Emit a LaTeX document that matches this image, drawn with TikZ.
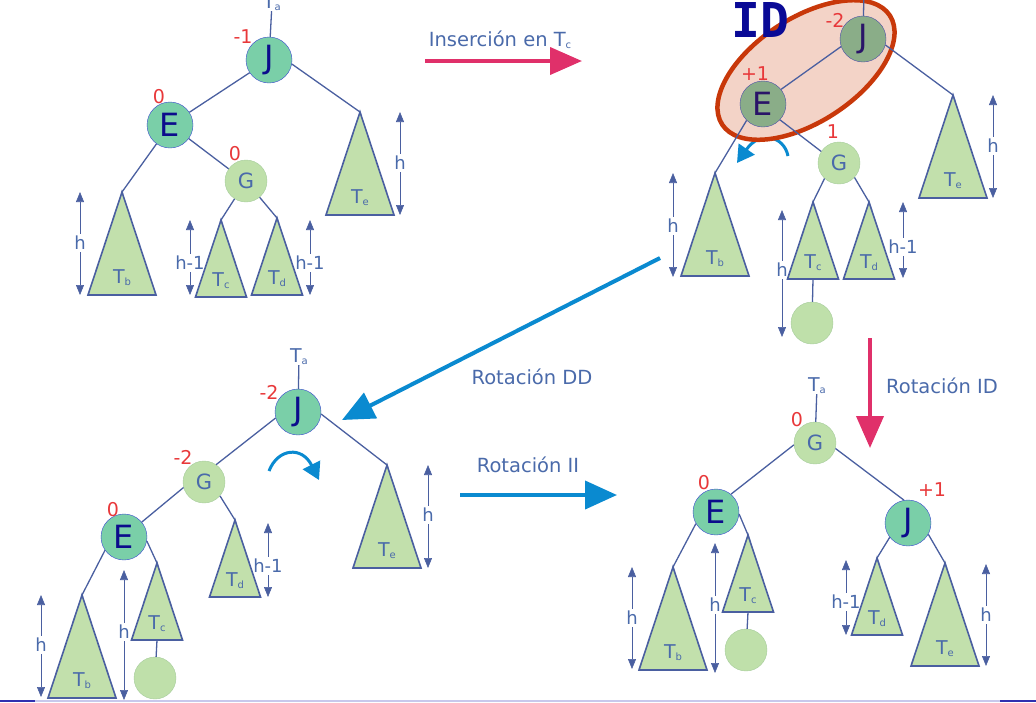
\documentclass[tikz,border=0pt]{standalone}
\usepackage{fontspec}
\setmainfont{DejaVu Sans}
\newfontfamily\idfont{DejaVu Sans Mono}
\usetikzlibrary{arrows.meta,shapes.geometric,positioning}

\definecolor{treeline}{HTML}{4A5FA0}
\definecolor{trifill}{HTML}{C2E0AC}
\definecolor{midgreen}{HTML}{7ACFA8}
\definecolor{midborder}{HTML}{3A48D0}
\definecolor{navyletter}{HTML}{0C0C8C}
\definecolor{lightgreen}{HTML}{BFE0AA}
\definecolor{lightborder}{HTML}{A6CC9C}
\definecolor{gletter}{HTML}{4A6AAA}
\definecolor{darkgreen}{HTML}{8AAD88}
\definecolor{darkborder}{HTML}{4B4FA8}
\definecolor{darkletter}{HTML}{2A1468}
\definecolor{salmonfill}{HTML}{F3D3C7}
\definecolor{rust}{HTML}{C8380A}
\definecolor{bfred}{HTML}{E8383A}
\definecolor{labelblue}{HTML}{4A6AAA}
\definecolor{arrowblue}{HTML}{0A8AD0}
\definecolor{rosered}{HTML}{E0306A}
\definecolor{idblue}{HTML}{0A0A96}
\definecolor{lavender}{HTML}{C8C8EC}
\definecolor{slideblue}{HTML}{3030B0}

\newcommand{\Tsub}[1]{T\raisebox{-2pt}{\fontsize{10}{10}\selectfont #1}}

\begin{document}
\begin{tikzpicture}[x=1pt,y=-1pt,
    edge/.style={draw=treeline,line width=1.3pt},
    avl/.style={circle,draw=midborder,fill=midgreen,minimum size=46pt,inner sep=0pt,text=navyletter,font=\fontsize{32}{32}\selectfont},
    avldark/.style={avl,draw=darkborder,fill=darkgreen,text=darkletter},
    leaf/.style={circle,draw=lightborder,fill=lightgreen,minimum size=42pt,inner sep=0pt,text=gletter,font=\fontsize{21}{21}\selectfont},
    bf/.style={text=bfred,font=\fontsize{19}{19}\selectfont,inner sep=0pt},
    tri/.style={draw=treeline,fill=trifill,line width=1.6pt,line join=miter},
    sub/.style={text=labelblue,font=\fontsize{19}{19}\selectfont,inner sep=0pt},
    hlab/.style={text=labelblue,font=\fontsize{18}{18}\selectfont,inner sep=2pt},
    harr/.style={-{Triangle[width=8pt,length=10pt]},draw=treeline,line width=0.6pt},
    caption/.style={text=labelblue,font=\fontsize{19.5}{19.5}\selectfont},
    bigblue/.style={-{Triangle[width=28pt,length=32pt]},draw=arrowblue,line width=4pt},
    bigpink/.style={-{Triangle[width=27pt,length=32pt]},draw=rosered,line width=4pt},
    turn/.style={-{Triangle[width=19pt,length=17pt]},draw=arrowblue,line width=3pt}]
    \useasboundingbox (0,0) rectangle (1036,702);

    \draw[turn] (788,156) .. controls (784,136) and (760,130) .. (737,163);
    \node[ellipse,draw=rust,fill=salmonfill,line width=4.5pt,rotate=33,minimum width=200pt,minimum height=104pt](ring) at (806,70){};

    \node[avl](J1) at (269,60){J};
    \node[avl](E1) at (170,125){E};
    \node[leaf](G1) at (246,181){G};
    \node[sub](Ta1) at (272,3){\Tsub{a}};

    \node[avldark](J2) at (863,39){J};
    \node[avldark](E2) at (763,104){E};
    \node[leaf](G2) at (839,163){G};
    \node[leaf](n2) at (812,323){};
    \coordinate(Ta2) at (864,-10);

    \node[avl](J3) at (298,412){J};
    \node[leaf](G3) at (204,482){G};
    \node[avl](E3) at (124,537){E};
    \node[leaf](n3) at (155,678){};
    \node[sub](Ta3) at (299,357){\Tsub{a}};

    \node[leaf](G4) at (815,443){G};
    \node[avl](E4) at (716,512){E};
    \node[avl](J4) at (908,523){J};
    \node[leaf](n4) at (746,650){};
    \node[sub](Ta4) at (817,386){\Tsub{a}};

    \foreach \n/\x/\y/\l in {tb1/122/192/b,te1/360/112/e,tb2/715/173/b,te2/953/95/e,tb3/82/595/b,te3/387/465/e,tb4/673/567/b,te4/945/563/e}{
        \draw[tri] (\x,\y) coordinate(\n) -- ++(-34,103) -- ++(68,0) -- cycle;
        \node[sub](\n t) at (\x,\y+86){\Tsub{\l}};
    }
    \foreach \n/\x/\y/\l in {tc1/221/220/c,td1/277/218/d,tc2/813/202/c,td2/869/202/d,tc3/157/563/c,td3/235/520/d,tc4/748/535/c,td4/877/558/d}{
        \draw[tri] (\x,\y) coordinate(\n) -- ++(-25.5,77) -- ++(51,0) -- cycle;
        \coordinate(\n b) at (\x,\y+77);
        \node[sub](\n t) at (\x,\y+61){\Tsub{\l}};
    }

    \draw[edge] (Ta1) -- (J1);
    \draw[edge] (J1) -- (E1);
    \draw[edge] (J1.-10) -- (te1);
    \draw[edge] (E1.-36) -- (G1.145);
    \draw[edge] (E1) -- (tb1);
    \draw[edge] (G1) -- (tc1);
    \draw[edge] (G1) -- (td1);

    \draw[edge] (Ta2) -- (J2);
    \draw[edge] (J2.199) -- (E2.39);
    \draw[edge] (J2.-15) -- (te2);
    \draw[edge] (E2.225) -- (tb2);
    \draw[edge] (E2.-43) -- (G2.147);
    \draw[edge] (G2.227) -- (tc2);
    \draw[edge] (G2.-43) -- (td2);
    \draw[edge] (tc2b) -- (n2);

    \draw[edge] (Ta3) -- (J3);
    \draw[edge] (J3.195) -- (G3.55);
    \draw[edge] (J3.-5) -- (te3);
    \draw[edge] (G3.195) -- (E3.40);
    \draw[edge] (G3.-41) -- (td3);
    \draw[edge] (E3.215) -- (tb3);
    \draw[edge] (E3.-10) -- (tc3);
    \draw[edge] (tc3b) -- (n3);

    \draw[edge] (Ta4) -- (G4);
    \draw[edge] (G4.185) -- (E4.50);
    \draw[edge] (G4.-15) -- (J4.100);
    \draw[edge] (E4.210) -- (tb4);
    \draw[edge] (E4.-5) -- (tc4);
    \draw[edge] (J4.218) -- (td4);
    \draw[edge] (J4.-29) -- (te4);
    \draw[edge] (tc4b) -- (n4);

    \foreach \x/\t/\b/\m/\s [count=\i] in {80/192/295/243/h,190/220/295/263/h-1,310/220/295/263/h-1,400/112/215/163/h,
        673/173/277/226/h,782/210/337/270/h,903/202/278/247/h-1,993/95/198/146/h,
        41/595/697/645/h,124/570/700/632/h,268/523/597/566/h-1,428/465/568/515/h,
        632/567/669/618/h,715/543/673/605/h,846/560/635/602/h-1,986/564/666/615/h}{
        \coordinate(ht\i) at (\x,\t);
        \coordinate(hb\i) at (\x,\b);
        \node[hlab](h\i) at (\x,\m){\s};
        \draw[harr] (h\i) -- (ht\i);
        \draw[harr] (h\i) -- (hb\i);
    }

    \node[bf](f1) at (243,37){-1};
    \node[bf](f2) at (159,97){0};
    \node[bf](f3) at (235,154){0};
    \node[bf](f4) at (835,20){-2};
    \node[bf](f5) at (755,74){+1};
    \node[bf](f6) at (833,132){1};
    \node[bf](f7) at (269,392){-2};
    \node[bf](f8) at (183,457){-2};
    \node[bf](f9) at (113,510){0};
    \node[bf](f10) at (797,420){0};
    \node[bf](f11) at (704,483){0};
    \node[bf](f12) at (932,490){+1};

    \node[text=idblue,font=\idfont\bfseries\fontsize{48}{48}\selectfont](id) at (760,20){ID};

    \draw[turn] (269,471) .. controls (278,448) and (302,446) .. (319,480);

    \node[caption](ins) at (500,40){Inserción en \Tsub{c}};
    \coordinate(ins0) at (425,61);
    \coordinate(ins1) at (582,61);
    \draw[bigpink] (ins0) -- (ins1);

    \node[caption](dd) at (532,377){Rotación DD};
    \coordinate(dd0) at (660,258);
    \coordinate(dd1) at (342,420);
    \draw[bigblue] (dd0) -- (dd1);

    \node[caption](ii) at (528,465){Rotación II};
    \coordinate(ii0) at (460,495);
    \coordinate(ii1) at (617,495);
    \draw[bigblue] (ii0) -- (ii1);

    \node[caption](rid) at (942,386){Rotación ID};
    \coordinate(id0) at (870,338);
    \coordinate(id1) at (870,448);
    \draw[bigpink] (id0) -- (id1);

    \draw[lavender,line width=2pt] (0,701) -- (1036,701);
    \draw[slideblue,line width=2pt] (0,701) -- (35,701);
    \draw[slideblue,line width=2pt] (1000,701) -- (1036,701);
\end{tikzpicture}
\end{document}
